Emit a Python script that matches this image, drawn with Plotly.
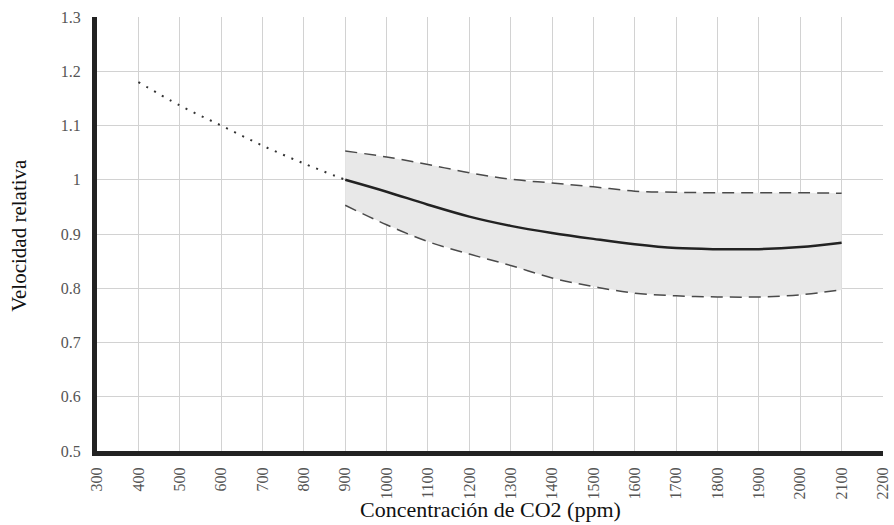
import plotly.graph_objects as go

# Data
hist_x = [400, 500, 600, 700, 800, 900]
hist_y = [1.18, 1.137, 1.10, 1.063, 1.03, 1.0]

proj_x = [900, 1000, 1100, 1200, 1300, 1400, 1500, 1600, 1700, 1800, 1900, 2000, 2100]
mid_y = [1.0, 0.978, 0.954, 0.932, 0.915, 0.902, 0.891, 0.881, 0.874, 0.872, 0.872, 0.876, 0.884]
upper_y = [1.053, 1.042, 1.028, 1.013, 1.001, 0.994, 0.987, 0.979, 0.977, 0.976, 0.976, 0.976, 0.975]
lower_y = [0.953, 0.917, 0.886, 0.863, 0.842, 0.819, 0.803, 0.791, 0.786, 0.784, 0.784, 0.788, 0.797]

x_ticks = list(range(300, 2201, 100))
y_ticks = [0.5, 0.6, 0.7, 0.8, 0.9, 1.0, 1.1, 1.2, 1.3]
y_tick_labels = ["0.5", "0.6", "0.7", "0.8", "0.9", "1", "1.1", "1.2", "1.3"]

FONT = "Liberation Serif, Times New Roman, serif"

fig = go.Figure()
# Band fill
fig.add_trace(go.Scatter(x=proj_x + proj_x[::-1], y=upper_y + lower_y[::-1],
                         fill="toself", fillcolor="#e8e8e8", line=dict(width=0),
                         mode="lines", hoverinfo="skip", showlegend=False))
fig.add_trace(go.Scatter(x=proj_x, y=upper_y, mode="lines", line_shape="spline",
                         line=dict(color="#4a4a4a", width=1.5, dash="12px,7px"), showlegend=False))
fig.add_trace(go.Scatter(x=proj_x, y=lower_y, mode="lines", line_shape="spline",
                         line=dict(color="#4a4a4a", width=1.5, dash="12px,7px"), showlegend=False))
fig.add_trace(go.Scatter(x=proj_x, y=mid_y, mode="lines", line_shape="spline",
                         line=dict(color="#222222", width=2.5), showlegend=False))
fig.add_trace(go.Scatter(x=hist_x, y=hist_y, mode="lines", line_shape="spline",
                         line=dict(color="#333333", width=2, dash="2px,7px"), showlegend=False))

fig.update_layout(
    width=894, height=525,
    margin=dict(l=97, r=3, t=17, b=74),
    paper_bgcolor="white", plot_bgcolor="white",
    font=dict(family=FONT, color="#444444"),
    xaxis=dict(range=[300, 2200], tickvals=x_ticks, ticktext=[str(v) for v in x_ticks],
               tickangle=-90, tickfont=dict(size=16, color="#555555", family=FONT),
               showgrid=True, gridcolor="#d2d2d2", gridwidth=1,
               showline=True, linecolor="#222222", linewidth=5, zeroline=False,
               ticks="", ticklabelstandoff=5, ticklabeloverflow="allow"),
    yaxis=dict(range=[0.5, 1.3], tickvals=y_ticks, ticktext=y_tick_labels,
               tickfont=dict(size=16, color="#555555", family=FONT),
               showgrid=True, gridcolor="#d2d2d2", gridwidth=1,
               showline=True, linecolor="#222222", linewidth=5, zeroline=False,
               ticks="", ticklabelstandoff=8, ticklabeloverflow="allow"),
    annotations=[
        dict(text="Concentración de CO2 (ppm)", xref="paper", yref="paper",
             x=(494 - 97) / 794, y=-(510 - 451) / 434, xanchor="center", yanchor="middle",
             showarrow=False, font=dict(size=22, color="#111111", family=FONT)),
        dict(text="Velocidad relativa", xref="paper", yref="paper",
             x=-(97 - 18) / 794, y=(451 - 235) / 434, xanchor="center", yanchor="middle",
             textangle=-90, showarrow=False, font=dict(size=21, color="#111111", family=FONT)),
    ],
)

fig.write_html("out.html", config={"displayModeBar": False},
               post_script="document.body.style.margin='0';document.body.style.overflow='hidden';")
